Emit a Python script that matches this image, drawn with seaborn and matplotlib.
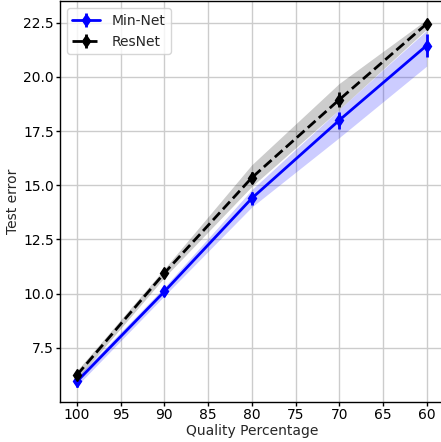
import numpy as np
import matplotlib
matplotlib.use("Agg")
import matplotlib.pyplot as plt
import seaborn as sns

# values
quality = [100, 90, 80, 70, 60]

minnet_mean = [5.95, 10.1, 14.4, 18.0, 21.45]
minnet_err = [0.25, 0.2, 0.3, 0.38, 0.55]
minnet_low = [5.75, 9.9, 14.0, 17.2, 20.5]
minnet_high = [6.15, 10.3, 14.8, 18.5, 22.15]

resnet_mean = [6.25, 10.95, 15.35, 18.95, 22.45]
resnet_err = [0.2, 0.15, 0.25, 0.35, 0.2]
resnet_low = [6.05, 10.75, 14.95, 18.5, 22.2]
resnet_high = [6.45, 11.15, 15.95, 19.7, 22.65]

xticks = [100, 95, 90, 85, 80, 75, 70, 65, 60]

sns.set_style("whitegrid")
plt.rcParams['font.family'] = ['DejaVu Sans']

fig = plt.figure(figsize=(4.41, 4.42), dpi=100)
ax = fig.add_axes([0.136, 0.0905, 0.871, 0.907])

ax.fill_between(quality, minnet_low, minnet_high, color='blue', alpha=0.2, linewidth=0)
ax.fill_between(quality, resnet_low, resnet_high, color='black', alpha=0.2, linewidth=0)

ax.errorbar(quality, minnet_mean, yerr=minnet_err, fmt='-d', color='blue',
            lw=2, ms=6, elinewidth=2, label='Min-Net', zorder=3)
ax.errorbar(quality, resnet_mean, yerr=resnet_err, fmt='--d', color='black',
            lw=2, ms=6, elinewidth=2, label='ResNet', zorder=4)

ax.set_xlim(101.95, 58.0)
ax.set_ylim(5.0, 23.5)
ax.set_xticks(xticks)
ax.set_yticks([7.5, 10.0, 12.5, 15.0, 17.5, 20.0, 22.5])
ax.set_yticklabels(['7.5', '10.0', '12.5', '15.0', '17.5', '20.0', '22.5'])

ax.grid(True, color='#cccccc', lw=1)
for s in ax.spines.values():
    s.set_color('black')
    s.set_linewidth(1)
ax.tick_params(axis='both', which='major', length=3, width=1, color='black',
               labelsize=10, labelcolor='black', bottom=True, left=True, pad=1.5)

ax.set_xlabel('Quality Percentage', fontsize=10, labelpad=1)
ax.set_ylabel('Test error', fontsize=10, labelpad=2)
ax.legend(loc='upper left', fontsize=10, frameon=True)

fig.savefig('out.png', dpi=100)
